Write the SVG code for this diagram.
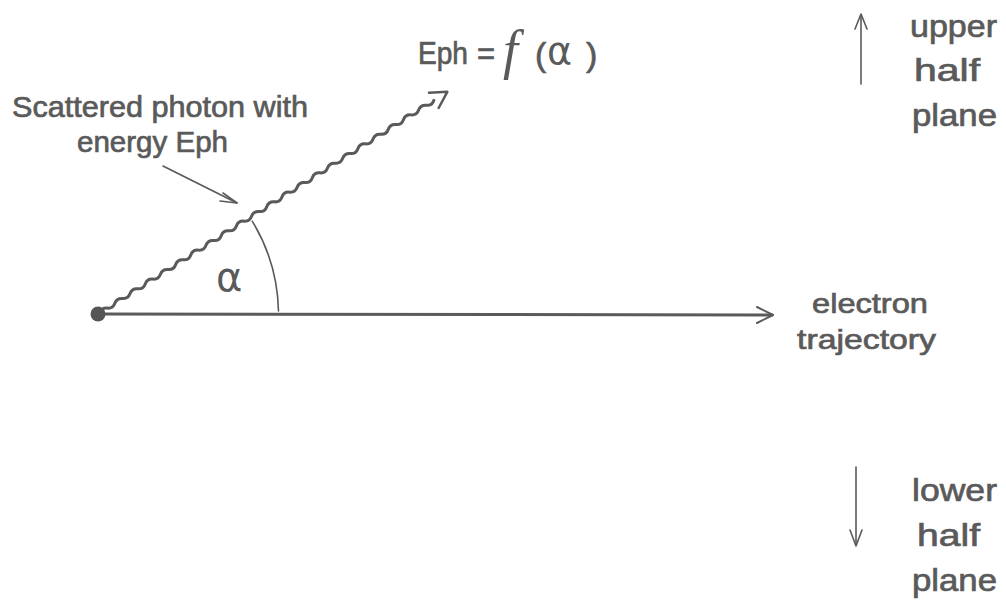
<svg xmlns="http://www.w3.org/2000/svg" width="1006" height="601" viewBox="0 0 1006 601">
<style>
.t{font-family:"Liberation Sans",Arial,sans-serif;fill:#5a5a5a;stroke:#5a5a5a;stroke-width:0.7}
.ln{fill:none;stroke:#5a5a5a;stroke-linecap:round;stroke-linejoin:round}
</style>
<rect width="1006" height="601" fill="#fff"/>
<g id="connectors">
  <g id="electron-trajectory-line">
    <line class="ln" x1="98" y1="314" x2="772" y2="315" stroke-width="3"/>
    <polyline class="ln" points="757,307 773,315 757,323" stroke-width="2"/>
  </g>
  <g id="photon" transform="rotate(-32.46 98 314)">
    <path class="ln" stroke-width="3" d="M100,314 q4.5,-3.5 9,0 t9,0 t9,0 t9,0 t9,0 t9,0 t9,0 t9,0 t9,0 t9,0 t9,0 t9,0 t9,0 t9,0 t9,0 t9,0 t9,0 t9,0 t9,0 t9,0 t9,0 t9,0 t9,0 t9,0 t9,0 t9,0 t9,0 t9,0 t9,0 t9,0 t9,0 t9,0 t9,0 t9,0 t9,0 t9,0 t9,0 t9,0 t9,0 t9,0 t9,0 t9,0 t9,0 t9,0"/>
    <polyline class="ln" points="496,305 512,314 496,323" stroke-width="2.5"/>
  </g>
  <path id="angle-arc" class="ln" stroke-width="1.6" d="M252.3,221.3 A180,180 0 0 1 278.5,311"/>
  <g id="pointer">
    <line class="ln" x1="163" y1="166" x2="237" y2="203" stroke-width="1.6"/>
    <polyline class="ln" points="223,193 237,203 220,201" stroke-width="1.6"/>
  </g>
  <g id="upper-arrow">
    <line class="ln" x1="861" y1="84" x2="861" y2="15" stroke-width="1.6"/>
    <polyline class="ln" points="855,29 861,14 867,29" stroke-width="1.6"/>
  </g>
  <g id="lower-arrow">
    <line class="ln" x1="856" y1="467" x2="856" y2="545" stroke-width="1.6"/>
    <polyline class="ln" points="850,530 856,546 862,530" stroke-width="1.6"/>
  </g>
</g>
<g id="origin"><circle cx="98" cy="314" r="7.5" fill="#555"/></g>
<g id="photon-label">
  <text class="t" x="12" y="117" font-size="30" textLength="296" lengthAdjust="spacingAndGlyphs">Scattered photon with</text>
  <text class="t" x="77" y="152" font-size="30" textLength="151" lengthAdjust="spacingAndGlyphs">energy  Eph</text>
</g>
<g id="formula">
  <text class="t" x="418" y="64" font-size="31" textLength="50" lengthAdjust="spacingAndGlyphs">Eph</text>
  <text class="t" x="477" y="64" font-size="31">=</text>
  <text x="503" y="68" font-size="54" font-style="italic" font-family="Liberation Serif,serif" fill="#5a5a5a">f</text>
  <text class="t" x="535" y="66" font-size="34" stroke-width="0.4">(</text>
  <text x="547" y="64" font-size="38" font-family="DejaVu Sans,sans-serif" fill="#5a5a5a">α</text>
  <text class="t" x="586" y="66" font-size="34" stroke-width="0.4">)</text>
</g>
<g id="alpha"><text x="216" y="291" font-size="40" font-family="DejaVu Sans,sans-serif" fill="#5a5a5a">α</text></g>
<g id="electron-label">
  <text class="t" x="812" y="313" font-size="28" textLength="116" lengthAdjust="spacingAndGlyphs">electron</text>
  <text class="t" x="797" y="349" font-size="28" textLength="139" lengthAdjust="spacingAndGlyphs">trajectory</text>
</g>
<g id="upper-label">
  <text class="t" x="910" y="37" font-size="32" textLength="87" lengthAdjust="spacingAndGlyphs">upper</text>
  <text class="t" x="914" y="81" font-size="32" textLength="66" lengthAdjust="spacingAndGlyphs">half</text>
  <text class="t" x="912" y="126" font-size="32" textLength="85" lengthAdjust="spacingAndGlyphs">plane</text>
</g>
<g id="lower-label">
  <text class="t" x="912" y="501" font-size="32" textLength="85" lengthAdjust="spacingAndGlyphs">lower</text>
  <text class="t" x="917" y="546" font-size="32" textLength="63" lengthAdjust="spacingAndGlyphs">half</text>
  <text class="t" x="912" y="591" font-size="32" textLength="85" lengthAdjust="spacingAndGlyphs">plane</text>
</g>
</svg>
